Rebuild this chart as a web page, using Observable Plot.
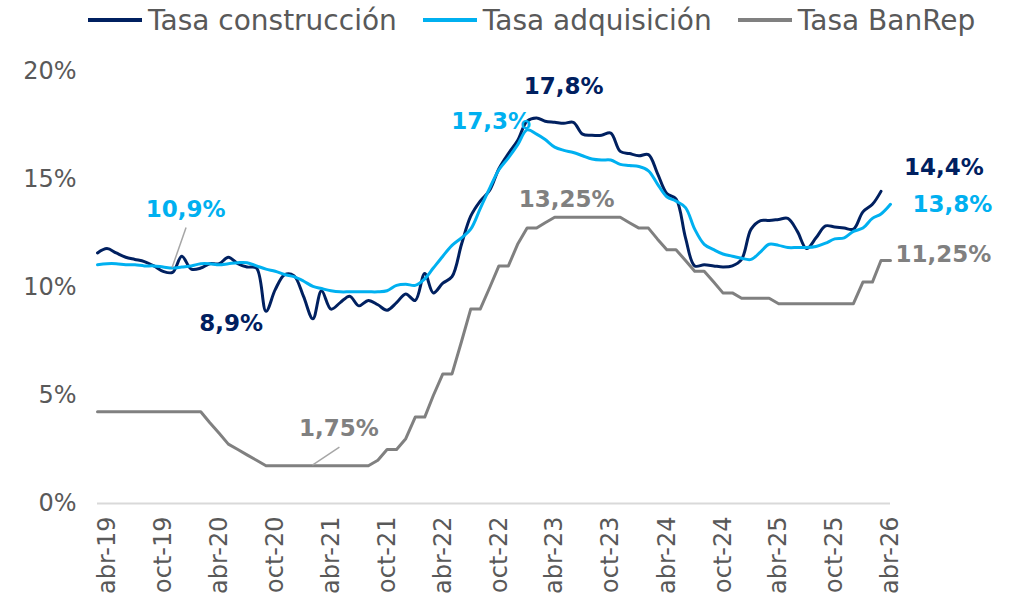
<!DOCTYPE html>
<html>
<head>
<meta charset="utf-8">
<script src="https://cdn.jsdelivr.net/npm/d3@7"></script>
<script src="https://cdn.jsdelivr.net/npm/@observablehq/plot@0.6"></script>
<style>
  body { margin: 0; background: #fff; font-family: "DejaVu Sans", sans-serif; }
  #legend { height: 40px; display: flex; align-items: center; padding-left: 88px; font-size: 28px; color: #595959; box-sizing: border-box; }
  .item { display: flex; align-items: center; margin-right: 26px; white-space: nowrap; }
  .sw { width: 54px; height: 4px; margin-right: 6px; }
</style>
</head>
<body>
<div id="legend"></div>
<div id="chart"></div>
<script>
// ---- data ----
const firstMonth = "2019-03-01"; // mar-19, monthly series
const seriesNames = ["Tasa construcción", "Tasa adquisición", "Tasa BanRep"];
const seriesColors = ["#002060", "#00b0f0", "#808080"];

const construccion = [
  11.6, 11.8, 11.6, 11.4, 11.3, 11.2, 11.0, 10.75, 10.7, 11.45,
  10.85, 10.9, 11.1, 11.1, 11.4, 11.1, 10.95, 10.9, 8.9, 9.9,
  10.6, 10.55, 9.6, 8.55, 9.85, 9.0, 9.3, 9.6, 9.15, 9.4,
  9.2, 8.95, 9.3, 9.7, 9.4, 10.65, 9.75, 10.2, 10.5, 12.0,
  13.3, 14.0, 14.5, 15.5, 16.2, 16.8, 17.7, 17.85, 17.7, 17.65,
  17.6, 17.65, 17.1, 17.05, 17.05, 17.15, 16.3, 16.2, 16.1, 16.15,
  15.3, 14.35, 14.1, 12.3, 11.0, 11.05, 11.0, 10.95, 11.0, 11.3,
  12.7, 13.1, 13.1, 13.15, 13.2, 12.6, 11.8, 12.3, 12.85, 12.8,
  12.75, 12.7, 13.5, 13.85, 14.45
];

const adquisicion = [
  11.05, 11.1, 11.1, 11.05, 11.05, 11.0, 11.0, 10.95, 10.9, 10.95,
  11.0, 11.1, 11.1, 11.05, 11.1, 11.15, 11.15, 11.0, 10.85, 10.75,
  10.6, 10.5, 10.3, 10.05, 9.95, 9.85, 9.8, 9.8, 9.8, 9.8,
  9.8, 9.85, 10.1, 10.15, 10.1, 10.4, 10.9, 11.45, 11.95, 12.3,
  12.7, 13.65, 14.6, 15.45, 16.0, 16.6, 17.3, 17.1, 16.85, 16.5,
  16.35, 16.25, 16.1, 15.95, 15.9, 15.9, 15.7, 15.65, 15.6, 15.4,
  14.8, 14.2, 14.0, 13.7, 12.7, 12.0, 11.75, 11.55, 11.45, 11.35,
  11.3, 11.65, 12.0, 11.95, 11.85, 11.85, 11.85, 11.9, 12.05, 12.25,
  12.3, 12.6, 12.75, 13.2, 13.4, 13.85
];

const banrep = [
  4.25, 4.25, 4.25, 4.25, 4.25, 4.25, 4.25, 4.25, 4.25, 4.25,
  4.25, 4.25, 3.75, 3.25, 2.75, 2.5, 2.25, 2.0, 1.75, 1.75,
  1.75, 1.75, 1.75, 1.75, 1.75, 1.75, 1.75, 1.75, 1.75, 1.75,
  2.0, 2.5, 2.5, 3.0, 4.0, 4.0, 5.0, 6.0, 6.0, 7.5,
  9.0, 9.0, 10.0, 11.0, 11.0, 12.0, 12.75, 12.75, 13.0, 13.25,
  13.25, 13.25, 13.25, 13.25, 13.25, 13.25, 13.25, 13.0, 12.75, 12.75,
  12.25, 11.75, 11.75, 11.25, 10.75, 10.75, 10.25, 9.75, 9.75, 9.5,
  9.5, 9.5, 9.5, 9.25, 9.25, 9.25, 9.25, 9.25, 9.25, 9.25,
  9.25, 9.25, 10.25, 10.25, 11.25, 11.25
];

const monthAbbr = ["ene","feb","mar","abr","may","jun","jul","ago","sep","oct","nov","dic"];
const tickMonths = ["2019-04","2019-10","2020-04","2020-10","2021-04","2021-10","2022-04","2022-10","2023-04","2023-10","2024-04","2024-10","2025-04","2025-10","2026-04"];

// annotations: which series, which month index, text
const annotations = [
  {series: 1, i: 8,  text: "10,9%"},
  {series: 0, i: 18, text: "8,9%"},
  {series: 0, i: 47, text: "17,8%"},
  {series: 1, i: 46, text: "17,3%"},
  {series: 2, i: 52, text: "13,25%"},
  {series: 2, i: 23, text: "1,75%"},
  {series: 0, i: 84, text: "14,4%"},
  {series: 1, i: 85, text: "13,8%"},
  {series: 2, i: 85, text: "11,25%"}
];

// ---- build ----
const start = new Date(firstMonth + "T00:00:00Z");
const monthDate = i => d3.utcMonth.offset(start, i);
const allSeries = [construccion, adquisicion, banrep];
const rows = allSeries.map((arr, s) => arr.map((v, i) => ({date: monthDate(i), value: v, series: seriesNames[s]})));
const xTicks = tickMonths.map(m => new Date(m + "-01T00:00:00Z"));
const fmt = d => monthAbbr[d.getUTCMonth()] + "-" + String(d.getUTCFullYear()).slice(2);

// label offsets (pixels) relative to anchor point
const labelOffsets = {
  "10,9%": [13, -58], "8,9%": [-35, 12], "17,8%": [27, -31], "17,3%": [-36, -8],
  "13,25%": [-16, -18], "1,75%": [26, -37], "14,4%": [63, -24], "13,8%": [62, 0], "11,25%": [53, -6]
};
const pointers = [
  {ann: "10,9%", d: [14, -40]},
  {ann: "1,75%", d: [27, -18]}
];

// legend
const legend = document.getElementById("legend");
seriesNames.forEach((n, s) => {
  const it = document.createElement("div");
  it.className = "item";
  it.innerHTML = `<span class="sw" style="background:${seriesColors[s]}"></span><span>${n}</span>`;
  legend.appendChild(it);
});

const labelMarks = annotations.map(a => {
  const arr = allSeries[a.series];
  const [dx, dy] = labelOffsets[a.text];
  return Plot.text([{date: monthDate(a.i), value: arr[a.i], text: a.text}], {
    x: "date", y: "value", text: "text", dx, dy,
    fill: seriesColors[a.series], fontSize: 23, fontWeight: "bold",
    fontFamily: "DejaVu Sans", textAnchor: "middle", lineAnchor: "middle"
  });
});

const pointerMarks = pointers.map(p => {
  const a = annotations.find(x => x.text === p.ann);
  const date = monthDate(a.i), value = allSeries[a.series][a.i];
  return (index, scales) => {
    const x0 = scales.x(date), y0 = scales.y(value);
    return d3.create("svg:line")
      .attr("x1", x0).attr("y1", y0)
      .attr("x2", x0 + p.d[0]).attr("y2", y0 + p.d[1])
      .attr("stroke", "#a6a6a6").attr("stroke-width", 1.5).node();
  };
});

const chart = Plot.plot({
  width: 1015,
  height: 569,
  marginLeft: 97,
  marginRight: 125,
  marginTop: 31,
  marginBottom: 106,
  style: {fontFamily: "DejaVu Sans", fontSize: "24px", color: "#595959", background: "#fff", overflow: "visible"},
  x: {type: "utc", domain: [monthDate(0), monthDate(85)], ticks: xTicks, tickFormat: fmt, tickRotate: -90, tickSize: 0, tickPadding: 13, label: null},
  y: {domain: [0, 20], ticks: [0, 5, 10, 15, 20], tickFormat: d => d + "%", tickSize: 0, tickPadding: 21, label: null},
  marks: [
    Plot.ruleY([0], {stroke: "#d9d9d9", strokeWidth: 2}),
    Plot.line(rows[0], {x: "date", y: "value", stroke: seriesColors[0], strokeWidth: 3, curve: "catmull-rom"}),
    Plot.line(rows[1], {x: "date", y: "value", stroke: seriesColors[1], strokeWidth: 3, curve: "catmull-rom"}),
    Plot.line(rows[2], {x: "date", y: "value", stroke: seriesColors[2], strokeWidth: 3}),
    ...pointerMarks,
    ...labelMarks
  ]
});
document.getElementById("chart").appendChild(chart);
</script>
</body>
</html>
